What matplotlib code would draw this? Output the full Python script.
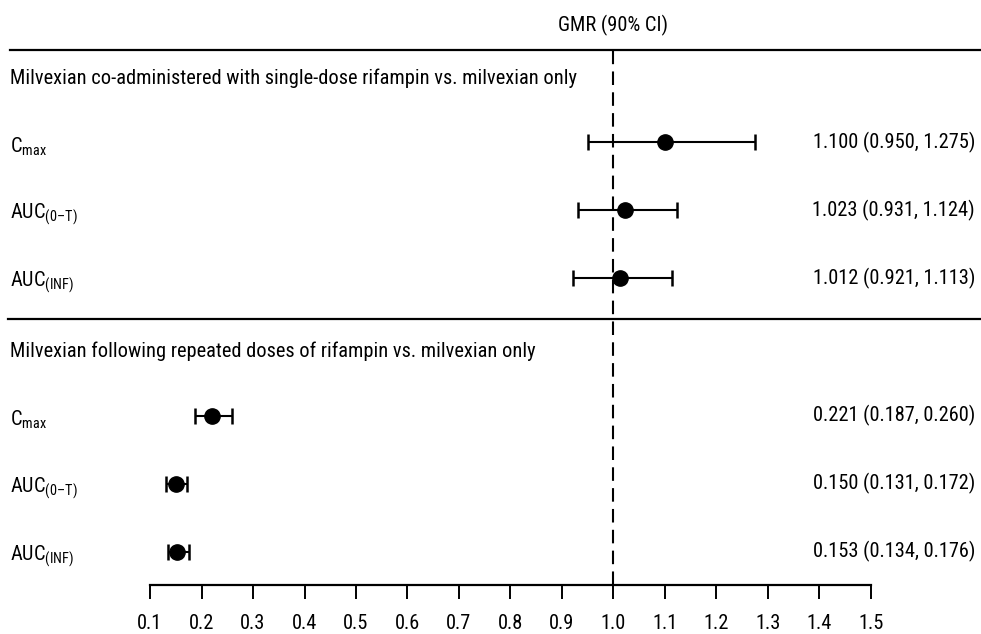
"""Forest plot of milvexian GMR (90% CI) with and without rifampin."""

import matplotlib
matplotlib.use("Agg")
import matplotlib.pyplot as plt
from matplotlib.transforms import blended_transform_factory

GROUPS = [
    "Milvexian co-administered with single-dose rifampin vs. milvexian only",
    "Milvexian following repeated doses of rifampin vs. milvexian only",
]
PARAMS = [r"C$_{\mathregular{max}}$", r"AUC$_{\mathregular{(0–T)}}$", r"AUC$_{\mathregular{(INF)}}$"]
GMR = [[1.100, 1.023, 1.012], [0.221, 0.150, 0.153]]
LOWER = [[0.950, 0.931, 0.921], [0.187, 0.131, 0.134]]
UPPER = [[1.275, 1.124, 1.113], [0.260, 0.172, 0.176]]
XTICKS = [0.1, 0.2, 0.3, 0.4, 0.5, 0.6, 0.7, 0.8, 0.9, 1.0, 1.1, 1.2, 1.3, 1.4, 1.5]

family = ["Roboto Condensed", "Liberation Sans", "DejaVu Sans"]
plt.rcParams.update({
    "font.family": family,
    "font.size": 14.7,
    "mathtext.fontset": "custom",
    "mathtext.rm": "Roboto Condensed",
})

W, H = 981, 634
fig = plt.figure(figsize=(W / 100, H / 100), dpi=100)
ax = fig.add_axes([150 / W, 49 / H, 721 / W, 535 / H])
ax.set_xlim(0.1, 1.5)
ax.set_ylim(7.87, 0)

for side in ("top", "left", "right"):
    ax.spines[side].set_visible(False)
ax.spines["bottom"].set_linewidth(1.6)
ax.set_yticks([])
ax.set_xticks(XTICKS)
ax.set_xticklabels([f"{t:.1f}" for t in XTICKS])
ax.tick_params(axis="x", direction="out", length=10, width=1.4, pad=11, labelsize=14.7)

trans = blended_transform_factory(fig.transFigure, ax.transData)

# reference line at GMR = 1
ax.axvline(1.0, color="black", linewidth=1.5, dashes=(6.5, 3.5), zorder=1)

group_start = [1.36, 5.38]
for g, label in enumerate(GROUPS):
    y0 = group_start[g]
    ax.text(10 / W, y0 - 0.95, label, transform=trans, ha="left", va="center")
    for i, name in enumerate(PARAMS):
        y = y0 + i * 1.0
        est, lo, hi = GMR[g][i], LOWER[g][i], UPPER[g][i]
        ax.errorbar(est, y, xerr=[[est - lo], [hi - est]], fmt="o", color="black",
                    markersize=11, elinewidth=1.5, capsize=6, capthick=1.8, zorder=3)
        ax.text(10 / W, y + 0.06, name, transform=trans, ha="left", va="center")
        ax.text(975 / W, y, f"{est:.3f} ({lo:.3f}, {hi:.3f})", transform=trans,
                ha="right", va="center")

# header and separators
ax.text(1.0, -0.36, "GMR (90% CI)", ha="center", va="center", clip_on=False)
for ysep, x0 in [(0.0, 10 / W), (3.96, 8 / W)]:
    ax.plot([x0, 1.0], [ysep, ysep], transform=trans, color="black",
            linewidth=1.6, clip_on=False)

fig.savefig("out.png", dpi=100)
